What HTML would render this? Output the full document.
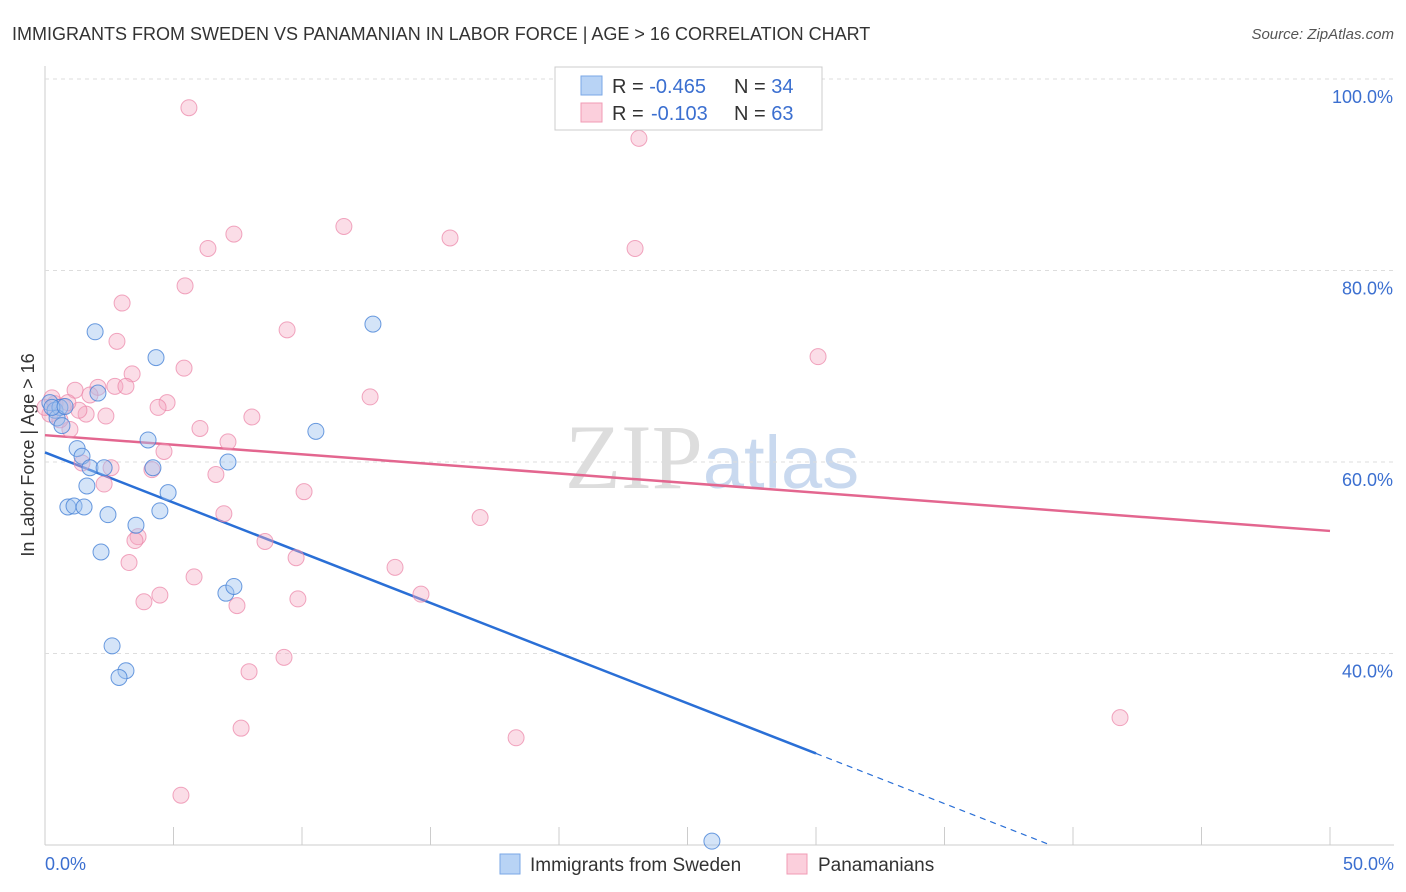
<!DOCTYPE html>
<html><head><meta charset="utf-8">
<style>
body{margin:0;background:#fff;font-family:"Liberation Sans",sans-serif;}
#wrap{position:relative;width:1406px;height:892px;overflow:hidden;}
</style></head>
<body><div id="wrap">
<svg id="chart" width="1406" height="892" xmlns="http://www.w3.org/2000/svg">
<text x="12" y="40" font-size="18" fill="#333">IMMIGRANTS FROM SWEDEN VS PANAMANIAN IN LABOR FORCE | AGE &gt; 16 CORRELATION CHART</text>
<text x="1394" y="39" font-size="15" fill="#555" font-style="italic" text-anchor="end">Source: ZipAtlas.com</text>
<text x="712" y="488" font-size="92" fill="#ddd" text-anchor="middle" font-family="Liberation Serif,serif">ZIP<tspan fill="#c9d9ef" font-family="Liberation Sans,sans-serif" font-size="74">atlas</tspan></text>
<text transform="translate(34,455) rotate(-90)" font-size="18" fill="#333" text-anchor="middle">In Labor Force | Age &gt; 16</text>
<g id="grid"></g><g id="ticks"></g><g id="lines"></g><g id="pts"></g>
<g>
<rect x="555" y="67" width="267" height="63" fill="#fff" stroke="#ccc"/>
<rect x="581" y="76" width="21" height="19" fill="#b8d3f5" stroke="#7aa7e6"/>
<rect x="581" y="103" width="21" height="19" fill="#fbcfdc" stroke="#f09bb5"/>
<text x="612" y="93" font-size="20" fill="#333">R = <tspan fill="#3b6fd0">-0.465</tspan><tspan x="734">N = </tspan><tspan fill="#3b6fd0">34</tspan></text>
<text x="612" y="120" font-size="20" fill="#333">R = <tspan x="651" fill="#3b6fd0">-0.103</tspan><tspan x="734">N = </tspan><tspan fill="#3b6fd0">63</tspan></text>
</g>
<g>
<rect x="500" y="854" width="20" height="20" fill="#b8d3f5" stroke="#7aa7e6"/>
<text x="530" y="871" font-size="19" fill="#333">Immigrants from Sweden</text>
<rect x="787" y="854" width="20" height="20" fill="#fbcfdc" stroke="#f09bb5"/>
<text x="818" y="871" font-size="19" fill="#333">Panamanians</text>
</g>
</svg>
<script>
const yTicks=[40,60,80,100];
const yTickLabels=["40.0%","60.0%","80.0%","100.0%"];
const xTickVals=[0,5,10,15,20,25,30,35,40,45,50];
const blueX=[0.19,0.39,0.58,0.47,0.66,2.06,1.95,4.32,12.76,4.01,10.54,1.25,1.44,1.75,2.30,4.20,7.12,1.63,4.79,0.89,1.13,1.52,2.45,4.47,3.54,2.18,7.04,7.35,2.61,3.15,2.88,25.95,0.27,0.78];
const blueY=[66.2,65.4,65.7,64.6,63.8,67.2,73.6,70.9,74.4,62.3,63.2,61.4,60.6,59.4,59.4,59.4,60.0,57.5,56.8,55.3,55.4,55.3,54.5,54.9,53.4,50.6,46.3,47.0,40.8,38.2,37.5,20.4,65.7,65.8];
const pinkX=[5.60,23.11,11.63,7.35,6.34,15.76,22.96,5.45,3.00,9.42,2.80,30.08,5.41,3.39,1.17,2.06,2.72,3.15,12.65,4.75,4.40,8.05,2.37,1.60,1.32,0.70,0.39,0.19,7.12,6.03,4.63,0.97,1.44,2.57,4.16,6.65,2.30,10.08,16.93,6.96,3.62,3.50,8.56,9.77,13.62,3.27,5.80,14.63,4.47,3.85,9.84,7.47,9.30,7.94,7.63,18.33,41.83,5.29,0.58,0.89,1.75,0,0.27];
const pinkY=[97.0,93.8,84.6,83.8,82.3,83.4,82.3,78.4,76.6,73.8,72.6,71.0,69.8,69.2,67.5,67.8,67.9,67.9,66.8,66.2,65.7,64.7,64.8,65.0,65.4,65.8,66.1,65.0,62.1,63.5,61.1,63.4,59.9,59.4,59.2,58.7,57.7,56.9,54.2,54.6,52.2,51.8,51.7,50.0,49.0,49.5,48.0,46.2,46.1,45.4,45.7,45.0,39.6,38.1,32.2,31.2,33.3,25.2,64.4,66.2,67.0,65.7,66.7];
const blueTrend=[61.0,-1.048]; // intercept, slope
const pinkTrend=[62.8,-0.2];
const yMin=20,yMax=100;
const NS="http://www.w3.org/2000/svg";
const X=v=>45+v/50*1285, Y=v=>79+(yMax-v)/(yMax-yMin)*766;
function mk(t,a,p){const e=document.createElementNS(NS,t);for(const k in a)e.setAttribute(k,a[k]);p.appendChild(e);return e;}
const grid=document.getElementById('grid'),ticks=document.getElementById('ticks');
mk('line',{x1:45,y1:66,x2:45,y2:845,stroke:'#ccc'},grid);
mk('line',{x1:45,y1:845,x2:1394,y2:845,stroke:'#ccc'},grid);
yTicks.forEach((v,i)=>{
 const l=mk('line',{x1:45,y1:Y(v),x2:1394,y2:Y(v),stroke:'#ddd','stroke-dasharray':'4 4'},grid);
 
 
 const t=mk('text',{x:1393,y:Y(v)+24,'font-size':18,fill:'#3b6fd0','text-anchor':'end'},ticks);
 t.textContent=yTickLabels[i];
 
 
});
xTickVals.forEach(v=>{
 const l=mk('line',{x1:X(v),y1:827,x2:X(v),y2:845,stroke:'#ccc'},ticks);
 
 
});
[["0.0%",45,'start'],["50.0%",1394,'end']].forEach(a=>{
 const t=mk('text',{x:a[1],y:870,'font-size':18,fill:'#3b6fd0','text-anchor':a[2]},ticks);
 t.textContent=a[0];
 
 
});
const lines=document.getElementById('lines'),pts=document.getElementById('pts');
function dot(x,y,f,s){const c=mk('circle',{cx:X(x),cy:Y(y),r:8,fill:f,stroke:s,'stroke-width':1},pts);
 
 }
pinkX.forEach((x,i)=>dot(x,pinkY[i],'rgba(246,170,195,0.4)','rgba(235,130,165,0.7)'));
blueX.forEach((x,i)=>dot(x,blueY[i],'rgba(160,195,240,0.45)','rgba(70,130,215,0.8)'));
const xEnd=(yMin-blueTrend[0])/blueTrend[1];
let l=mk('line',{x1:X(0),y1:Y(blueTrend[0]),x2:X(30),y2:Y(blueTrend[0]+blueTrend[1]*30),stroke:'#2a6fd6','stroke-width':2.5},lines);


l=mk('line',{x1:X(30),y1:Y(blueTrend[0]+blueTrend[1]*30),x2:X(xEnd),y2:Y(yMin),stroke:'#2a6fd6','stroke-width':1.2,'stroke-dasharray':'6 5'},lines);


l=mk('line',{x1:X(0),y1:Y(pinkTrend[0]),x2:X(50),y2:Y(pinkTrend[0]+pinkTrend[1]*50),stroke:'#e3668f','stroke-width':2.5},lines);


</script>
</div></body></html>
